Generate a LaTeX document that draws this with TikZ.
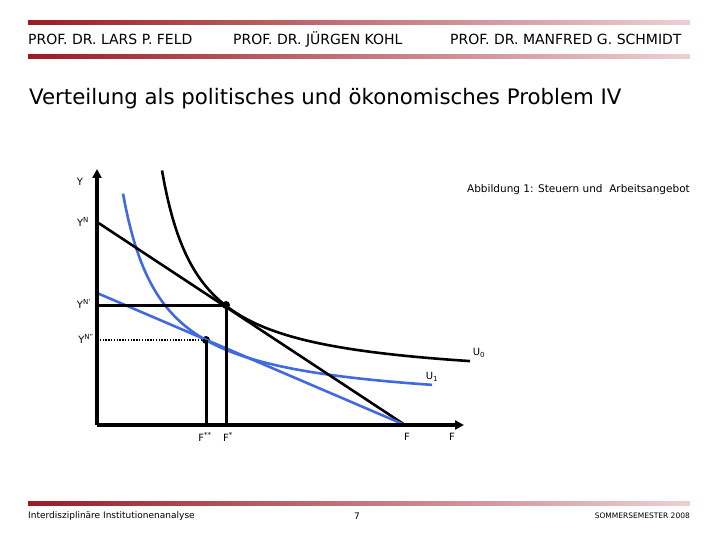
\documentclass[tikz,border=0pt]{standalone}
\usepackage{fontspec}
\setmainfont{DejaVu Sans}
\usetikzlibrary{arrows.meta}
\definecolor{barred}{RGB}{155,27,36}
\definecolor{barpink}{RGB}{236,208,212}
\definecolor{curveblue}{RGB}{65,105,225}
\tikzset{
  bar/.style={left color=barred,right color=barpink,draw=none},
  headtxt/.style={anchor=base west,inner sep=0pt,font=\fontsize{14}{16}\selectfont},
  foottxt/.style={inner sep=0pt,font=\fontsize{9}{10}\selectfont},
  lbl/.style={inner sep=0pt,font=\fontsize{10}{11}\selectfont},
  axisline/.style={line width=3.2pt,-{Triangle[length=9pt,width=9pt]}},
  blk/.style={line width=2.6pt,black},
  blu/.style={line width=2.6pt,curveblue},
  dropline/.style={line width=3pt,black},
  dotline/.style={line width=2.6pt,black,dash pattern=on 1.4pt off 1.4pt},
  tdot/.style={circle,fill=black,inner sep=0pt,minimum size=8pt}
}
\begin{document}
\begin{tikzpicture}[x=1pt,y=-1pt]
\useasboundingbox (0,0) rectangle (720,540);
% header bars
\shade[bar] (28,21) rectangle (690,24.5);
\shade[bar] (28,55) rectangle (690,58.5);
\shade[bar] (28,501.5) rectangle (690,505);
% header text
\node[headtxt] (h1) at (28,45) {PROF. DR. LARS P. FELD};
\node[headtxt] (h2) at (233,45) {PROF. DR. JÜRGEN KOHL};
\node[headtxt] (h3) at (450,45) {PROF. DR. MANFRED G. SCHMIDT};
% title
\node[anchor=west,inner sep=0pt,font=\fontsize{21.3}{24}\selectfont] (title) at (29,99)
  {Verteilung als politisches und ökonomisches Problem IV};
% caption
\node[lbl,anchor=east,font=\fontsize{10.5}{12}\selectfont] (cap) at (690,190) {Abbildung 1: Steuern und\ \ Arbeitsangebot};
% footer
\node[foottxt,anchor=west] (f1) at (28,516) {Interdisziplinäre Institutionenanalyse};
\node[foottxt] (f2) at (357,516) {7};
\node[foottxt,anchor=east,font=\fontsize{7.5}{9}\selectfont] (f3) at (690,516) {SOMMERSEMESTER 2008};
% coordinates
\coordinate (O) at (97,425);
\coordinate (ytop) at (97,169);
\coordinate (xend) at (464,425);
\coordinate (YN) at (97,222);
\coordinate (YNp) at (97,305);
\coordinate (YNpp) at (97,340);
\coordinate (YB) at (97,293);
\coordinate (Fbar) at (405,425);
\coordinate (Fstar) at (226,425);
\coordinate (Fss) at (206,425);
\node[tdot] (T0) at (226,305) {};
\node[tdot] (T1) at (206,340) {};
% curves
\draw[blu] plot[domain=123:432,samples=120] (\x,{409-8400/(\x-84)});
\draw[blk] plot[domain=162:470,samples=120] (\x,{384-7900/(\x-125)});
\draw[blk] (YN) -- (Fbar);
\draw[blu] (YB) -- (Fbar);
% helper lines
\draw[dropline] (YNp) -- (T0.center) -- (Fstar);
\draw[dotline] (YNpp) -- (T1.center);
\draw[dropline] (T1.center) -- (Fss);
% axes
\draw[axisline] (O) -- (ytop);
\draw[axisline] (O) -- (xend);
% labels
\node[lbl] (lY) at (80,182) {Y};
\node[lbl] (lYN) at (83,222) {Y\textsuperscript{N}};
\node[lbl] (lYNp) at (84,304) {Y\textsuperscript{N'}};
\node[lbl] (lYNpp) at (86,339) {Y\textsuperscript{N''}};
\node[lbl] (lU0) at (479,353) {U\textsubscript{0}};
\node[lbl] (lU1) at (432,377) {U\textsubscript{1}};
\node[lbl] (lFss) at (205,437) {F\textsuperscript{**}};
\node[lbl] (lFs) at (228,437) {F\textsuperscript{*}};
\node[lbl] (lFb) at (407,437) {F};
\node[lbl] (lF) at (452,437) {F};
\end{tikzpicture}
\end{document}
